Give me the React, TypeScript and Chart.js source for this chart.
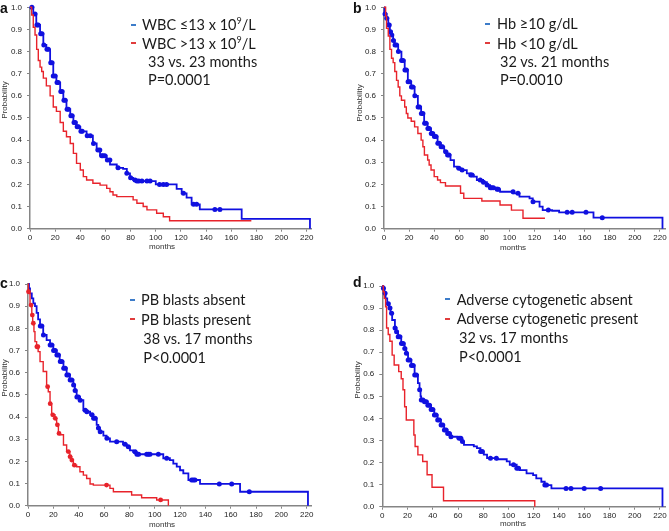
import React, { useEffect, useRef } from "react";
import { Chart, registerables } from "chart.js";
Chart.register(...registerables);

// ---------- shared ticks ----------
const xTicks = [0, 20, 40, 60, 80, 100, 120, 140, 160, 180, 200, 220];
const yTicks = [0, 0.1, 0.2, 0.3, 0.4, 0.5, 0.6, 0.7, 0.8, 0.9, 1.0];
const X_MAX = 224;

// ---------- panel a: WBC ----------
const aBlueT = [0, 2.6, 5, 8, 10.6, 13, 16, 18.5, 21, 24, 26.5, 29, 32, 34.5, 37, 40, 45, 50, 53, 55.7, 61, 63.6, 69, 74, 77, 79.5, 82, 85, 100, 116.6, 120.6, 124.5, 128.5, 135, 168.3, 222.6];
const aBlueS = [1, 0.97, 0.92, 0.88, 0.83, 0.81, 0.75, 0.69, 0.66, 0.62, 0.58, 0.54, 0.51, 0.48, 0.46, 0.44, 0.42, 0.385, 0.355, 0.33, 0.31, 0.29, 0.275, 0.27, 0.25, 0.23, 0.22, 0.215, 0.2, 0.18, 0.16, 0.14, 0.11, 0.087, 0.044, 0];
const aBlueCensor = [1.5, 4, 5.5, 6.5, 8.5, 9.5, 11, 13.5, 14.5, 16.5, 17.5, 18.5, 20, 21.5, 22.5, 24.5, 25.5, 27, 28, 29.5, 30.5, 32.5, 33.5, 35, 36, 37.5, 38.5, 40.5, 41.5, 45.5, 48, 50.5, 54, 55.5, 57, 58, 59.5, 61.5, 63.5, 70, 77, 80, 83.5, 85, 86.5, 89, 93, 95.5, 103, 106, 108.6, 122, 130, 132.5, 147, 151];
const aRedT = [0, 1.3, 2.6, 4, 5.3, 6.6, 8, 9.3, 10.6, 13, 16, 18.5, 21, 24, 26.5, 29, 32, 34.5, 37, 40, 42.4, 45, 50, 55.7, 61, 63.6, 66, 69, 82, 85, 90, 93, 100.7, 106, 111, 176];
const aRedS = [1, 0.965, 0.91, 0.875, 0.81, 0.76, 0.73, 0.71, 0.68, 0.645, 0.6, 0.55, 0.53, 0.48, 0.44, 0.415, 0.385, 0.34, 0.295, 0.265, 0.235, 0.22, 0.205, 0.197, 0.182, 0.167, 0.152, 0.145, 0.13, 0.115, 0.1, 0.085, 0.07, 0.054, 0.036, 0.036];
const aRedCensor: number[] = [];
const aLegend = ["WBC ≤13 x 10", "WBC >13 x 10", "33 vs. 23 months", "P=0.0001"];

// ---------- panel b: Hb ----------
const bBlueT = [0, 0.5, 2, 3.4, 4.7, 6, 7.3, 8.6, 11.3, 13.9, 16.5, 19, 21.7, 24.4, 27, 29.6, 32, 34.8, 37.5, 40, 42.7, 45.3, 48, 50.5, 53, 55.8, 58.4, 61, 66, 69, 71.5, 74, 79, 82, 84.6, 90, 92.5, 103, 108, 116, 118.6, 124, 126.5, 134, 139.6, 167, 222];
const bBlueS = [1, 0.97, 0.95, 0.92, 0.89, 0.875, 0.85, 0.83, 0.8, 0.76, 0.717, 0.664, 0.64, 0.6, 0.55, 0.52, 0.476, 0.453, 0.43, 0.416, 0.386, 0.37, 0.348, 0.333, 0.31, 0.28, 0.273, 0.265, 0.25, 0.242, 0.235, 0.22, 0.21, 0.197, 0.185, 0.178, 0.167, 0.16, 0.145, 0.137, 0.122, 0.1, 0.084, 0.081, 0.074, 0.05, 0];
const bBlueCensor = [0.8, 2.2, 3.6, 4.2, 5.2, 6.2, 7.5, 8.8, 10, 11.5, 14, 15.2, 16.7, 17.8, 19.2, 20.4, 21.9, 23, 24.6, 27.2, 28.3, 29.8, 31, 32.4, 33.5, 35, 36, 37.7, 38.8, 40.2, 41.4, 42.9, 44, 45.5, 46.6, 49.2, 50.7, 51.8, 59.7, 62.3, 69.2, 70.2, 76.7, 79.3, 82.2, 84.8, 85.9, 87.2, 90.2, 91.1, 102.9, 106.8, 118.8, 131, 146, 150, 161, 174];
const bRedT = [0, 1.3, 2, 3.4, 4.7, 6, 7.3, 8.6, 10, 11.3, 12.6, 13.9, 16.5, 17.8, 19, 21.7, 24.4, 27, 29.6, 31, 32.2, 34.8, 36, 37.5, 40, 42.7, 45, 49, 61, 63.6, 78, 92.5, 101.6, 110.8, 128.3];
const bRedS = [1, 0.96, 0.905, 0.87, 0.81, 0.77, 0.75, 0.71, 0.67, 0.64, 0.6, 0.58, 0.55, 0.52, 0.5, 0.485, 0.46, 0.43, 0.4, 0.37, 0.333, 0.31, 0.288, 0.265, 0.235, 0.22, 0.208, 0.193, 0.16, 0.137, 0.125, 0.107, 0.084, 0.047, 0.047];
const bRedCensor: number[] = [];
const bLegend = ["Hb ≥10 g/dL", "Hb <10 g/dL", "32 vs. 21 months", "P=0.0010"];

// ---------- panel c: PB blasts ----------
const cBlueT = [0, 0.8, 1.6, 3, 4.2, 5.5, 6.8, 8, 9.5, 12, 14.7, 17.4, 20, 22.6, 25, 28, 30.5, 33, 35.8, 37, 38.4, 41, 43.7, 46.3, 49, 51.6, 54.2, 55.5, 56.8, 59.5, 62, 64.7, 75, 78, 80.5, 83, 85.8, 106.8, 112, 114.7, 117.4, 120, 122.6, 126.6, 135.8, 167.4, 221];
const cBlueS = [1, 0.98, 0.958, 0.935, 0.913, 0.9, 0.87, 0.84, 0.81, 0.77, 0.747, 0.725, 0.7, 0.68, 0.65, 0.62, 0.59, 0.567, 0.544, 0.52, 0.49, 0.476, 0.43, 0.424, 0.41, 0.394, 0.365, 0.35, 0.334, 0.316, 0.304, 0.289, 0.277, 0.266, 0.25, 0.243, 0.232, 0.214, 0.206, 0.19, 0.176, 0.16, 0.146, 0.116, 0.098, 0.063, 0];
const cBlueCensor = [9.7, 10.9, 12.2, 17.5, 18.8, 20.2, 21.5, 22.8, 24, 25.5, 26.7, 28.2, 29.4, 30.7, 32, 33.3, 34.6, 36, 37.2, 38.6, 39.8, 41.2, 45.2, 46.5, 50.5, 51.8, 53, 55.6, 57, 62.3, 70, 76.6, 79.2, 84.5, 86, 87.3, 93.7, 95, 96.3, 102.9, 109.5, 129.2, 130.5, 131.8, 151, 160.8, 174.7];
const cRedT = [0, 0.3, 0.8, 1.6, 3, 3.7, 4.7, 5.5, 6.8, 8, 9.5, 12, 14.7, 16, 17.4, 18.7, 21.3, 22.6, 24, 25.3, 28, 30.5, 33, 34.5, 35.8, 38.4, 41, 43.7, 46.3, 49, 51.6, 64.7, 67.4, 81.8, 89.7, 101.6, 110.8];
const cRedS = [1, 0.965, 0.958, 0.905, 0.86, 0.823, 0.785, 0.74, 0.717, 0.695, 0.65, 0.605, 0.537, 0.514, 0.46, 0.41, 0.394, 0.365, 0.326, 0.32, 0.274, 0.244, 0.221, 0.206, 0.183, 0.176, 0.153, 0.138, 0.123, 0.098, 0.093, 0.078, 0.063, 0.048, 0.036, 0.026, 0];
const cRedCensor = [0.4, 2.4, 3.4, 4.2, 7, 7.8, 15.5, 17.5, 19.5, 21.5, 23.2, 24.5, 31.8, 33.2, 34.6, 36.6, 62, 104.7];
const cLegend = ["PB blasts absent", "PB blasts present", "38 vs. 17 months", "P<0.0001"];

// ---------- panel d: adverse cytogenetics ----------
const dBlueT = [0, 0.8, 1.6, 2.6, 3.9, 5.2, 6.5, 7.8, 10, 11.2, 12.5, 15, 17.7, 19, 20.4, 23, 25.6, 28.2, 29.5, 30.3, 30.8, 33.4, 36, 38.6, 41.2, 43.8, 46.4, 49, 51.7, 54.3, 59.5, 63.4, 64.7, 72.5, 75, 77.8, 80.4, 83, 90.8, 98.6, 101, 106.5, 109, 114.3, 119.5, 122, 126, 128.7, 134, 222];
const dBlueS = [1, 0.99, 0.967, 0.944, 0.92, 0.9, 0.876, 0.846, 0.81, 0.793, 0.77, 0.74, 0.717, 0.695, 0.665, 0.64, 0.597, 0.56, 0.53, 0.5, 0.483, 0.476, 0.46, 0.44, 0.415, 0.393, 0.37, 0.347, 0.332, 0.317, 0.31, 0.295, 0.28, 0.273, 0.265, 0.25, 0.236, 0.22, 0.215, 0.205, 0.19, 0.174, 0.166, 0.151, 0.143, 0.128, 0.113, 0.098, 0.083, 0];
const dBlueCensor = [0.9, 2.2, 4.8, 6.1, 7.4, 10.1, 11.3, 12.6, 13.9, 15.2, 16.5, 17.8, 19.1, 20.5, 21.8, 23.1, 24.4, 25.7, 27, 29.6, 30.9, 32.2, 33.5, 34.8, 36.1, 37.4, 38.7, 40, 41.3, 42.6, 43.9, 45.2, 46.6, 47.9, 49.2, 50.5, 51.8, 53.1, 54.4, 60.9, 62.2, 63.5, 77.9, 79.2, 85.7, 90.4, 104, 106.6, 107.9, 128.8, 130.1, 145.6, 149.5, 160, 173];
const dRedT = [0, 0.8, 1.6, 2.6, 3.4, 4.7, 6, 7.8, 9.4, 13, 15, 16.4, 17.7, 19, 25, 26, 28.2, 32, 35.5, 39.4, 48.5, 120.8];
const dRedS = [1, 0.974, 0.944, 0.906, 0.81, 0.78, 0.75, 0.687, 0.642, 0.612, 0.58, 0.53, 0.453, 0.393, 0.325, 0.273, 0.235, 0.205, 0.145, 0.088, 0.027, 0];
const dRedCensor: number[] = [];
const dLegend = ["Adverse cytogenetic absent", "Adverse cytogenetic present", "32 vs. 17 months", "P<0.0001"];

const BLUE = "#1010e0";
const RED = "#e8232b";
const AXIS = "#858585";

function stepAt(t: number[], s: number[], x: number) {
  let v = s[0];
  for (let i = 0; i < t.length; i++) {
    if (t[i] <= x) v = s[i];
    else break;
  }
  return v;
}

type Geo = {
  left: number; top: number; w: number; h: number;
  aLeft: number; aTop: number; aBottom: number; ppm: number;
};

type PanelProps = {
  geo: Geo;
  blueT: number[]; blueS: number[]; blueC: number[];
  redT: number[]; redS: number[]; redC: number[];
};

function Panel({ geo, blueT, blueS, blueC, redT, redS, redC }: PanelProps) {
  const ref = useRef<HTMLCanvasElement | null>(null);
  useEffect(() => {
    if (!ref.current) return;
    const right = Math.max(0, geo.w - (geo.aLeft + X_MAX * geo.ppm));
    const tickFont = { family: "'Liberation Sans', Arial, sans-serif", size: 8 };
    const chart = new Chart(ref.current, {
      type: "line",
      data: {
        datasets: [
          {
            type: "line",
            data: redT.map((x, i) => ({ x, y: redS[i] })),
            stepped: true,
            borderColor: RED,
            borderWidth: 1.4,
            pointRadius: 0,
            fill: false,
            clip: false,
          } as any,
          {
            type: "scatter",
            data: redC.map((x) => ({ x, y: stepAt(redT, redS, x) })),
            pointRadius: 2.4,
            backgroundColor: RED,
            borderWidth: 0,
            clip: false,
          } as any,
          {
            type: "line",
            data: blueT.map((x, i) => ({ x, y: blueS[i] })),
            stepped: true,
            borderColor: BLUE,
            borderWidth: 1.8,
            pointRadius: 0,
            fill: false,
            clip: false,
          } as any,
          {
            type: "scatter",
            data: blueC.map((x) => ({ x, y: stepAt(blueT, blueS, x) })),
            pointRadius: 2.5,
            backgroundColor: BLUE,
            borderWidth: 0,
            clip: false,
          } as any,
        ],
      },
      options: {
        responsive: false,
        animation: false,
        events: [],
        layout: { padding: { left: 0, top: geo.aTop, right, bottom: 0 } },
        plugins: { legend: { display: false }, tooltip: { enabled: false } },
        scales: {
          x: {
            type: "linear",
            min: 0,
            max: X_MAX,
            afterBuildTicks: (s: any) => {
              s.ticks = xTicks.map((v) => ({ value: v }));
            },
            afterFit: (s: any) => {
              s.height = geo.h - geo.aBottom;
              s.paddingLeft = 0;
              s.paddingRight = 0;
            },
            ticks: { font: tickFont, color: "#222", padding: 1, maxRotation: 0, autoSkip: false },
            grid: { display: true, drawOnChartArea: false, drawTicks: true, tickLength: 3, color: AXIS, lineWidth: 1 },
            border: { display: true, color: AXIS, width: 1.5 },
          },
          y: {
            type: "linear",
            min: 0,
            max: 1,
            afterBuildTicks: (s: any) => {
              s.ticks = yTicks.map((v) => ({ value: v }));
            },
            afterFit: (s: any) => {
              s.width = geo.aLeft;
              s.paddingTop = 0;
              s.paddingBottom = 0;
            },
            ticks: {
              font: tickFont,
              color: "#222",
              padding: 5,
              autoSkip: false,
              callback: (v: any) => Number(v).toFixed(1),
            },
            grid: { display: true, drawOnChartArea: false, drawTicks: true, tickLength: 3, color: AXIS, lineWidth: 1 },
            border: { display: true, color: AXIS, width: 1.5 },
          },
        },
      } as any,
    });
    return () => chart.destroy();
  }, []);
  return (
    <canvas
      ref={ref}
      width={geo.w}
      height={geo.h}
      style={{ position: "absolute", left: geo.left, top: geo.top, width: geo.w, height: geo.h }}
    />
  );
}

const legendFont = "Lato, 'Open Sans', sans-serif";

function Txt({ x, y, children, size = 14.5, color = "#1a1a1a" }: any) {
  return (
    <div
      style={{
        position: "absolute",
        left: x,
        top: y - size * 0.6,
        fontFamily: legendFont,
        fontSize: size,
        lineHeight: `${size * 1.2}px`,
        color,
        whiteSpace: "nowrap",
      }}
    >
      {children}
    </div>
  );
}

function Dash({ x, y, color }: any) {
  return <div style={{ position: "absolute", left: x, top: y - 1, width: 5, height: 2, background: color }} />;
}

function Legend({ dashX, textX, text2X, ys, lines, sup }: any) {
  return (
    <>
      <Dash x={dashX} y={ys[0]} color="#3d7cc9" />
      <Dash x={dashX} y={ys[1]} color="#e03c3c" />
      <Txt x={textX} y={ys[0]}>
        {lines[0]}
        {sup ? <sup style={{ fontSize: "0.62em", lineHeight: 0 }}>9</sup> : null}
        {sup ? "/L" : null}
      </Txt>
      <Txt x={textX} y={ys[1]}>
        {lines[1]}
        {sup ? <sup style={{ fontSize: "0.62em", lineHeight: 0 }}>9</sup> : null}
        {sup ? "/L" : null}
      </Txt>
      <Txt x={text2X} y={ys[2]}>{lines[2]}</Txt>
      <Txt x={text2X} y={ys[3]}>{lines[3]}</Txt>
    </>
  );
}

const smallFont = "'Liberation Sans', Arial, sans-serif";

function AxisTitles({ px, py, mx, my }: any) {
  return (
    <>
      <div
        style={{
          position: "absolute",
          left: px,
          top: py,
          transform: "translate(-50%, -50%) rotate(-90deg)",
          fontFamily: smallFont,
          fontSize: 8,
          color: "#333",
          whiteSpace: "nowrap",
          lineHeight: "8px",
        }}
      >
        Probability
      </div>
      <div
        style={{
          position: "absolute",
          left: mx,
          top: my,
          transform: "translate(-50%, -50%)",
          fontFamily: smallFont,
          fontSize: 8,
          color: "#333",
          whiteSpace: "nowrap",
          lineHeight: "8px",
        }}
      >
        months
      </div>
    </>
  );
}

function Letter({ x, y, ch }: any) {
  return (
    <div
      style={{
        position: "absolute",
        left: x,
        top: y,
        fontFamily: smallFont,
        fontWeight: "bold",
        fontSize: 14,
        lineHeight: "14px",
        color: "#111",
      }}
    >
      {ch}
    </div>
  );
}

const geoA: Geo = { left: 0, top: 0, w: 335, h: 265, aLeft: 30, aTop: 7.3, aBottom: 228.7, ppm: 1.2577 };
const geoB: Geo = { left: 335, top: 0, w: 334, h: 265, aLeft: 49, aTop: 7.3, aBottom: 228.7, ppm: 1.2727 };
const geoC: Geo = { left: 0, top: 265, w: 335, h: 266, aLeft: 28, aTop: 19, aBottom: 240.7, ppm: 1.2668 };
const geoD: Geo = { left: 335, top: 265, w: 334, h: 266, aLeft: 47.3, aTop: 21, aBottom: 241.7, ppm: 1.2773 };

export default function App() {
  return (
    <div style={{ position: "fixed", left: 0, top: 0, width: 669, height: 531, background: "#fff", overflow: "hidden" }}>
      <Panel geo={geoA} blueT={aBlueT} blueS={aBlueS} blueC={aBlueCensor} redT={aRedT} redS={aRedS} redC={aRedCensor} />
      <Panel geo={geoB} blueT={bBlueT} blueS={bBlueS} blueC={bBlueCensor} redT={bRedT} redS={bRedS} redC={bRedCensor} />
      <Panel geo={geoC} blueT={cBlueT} blueS={cBlueS} blueC={cBlueCensor} redT={cRedT} redS={cRedS} redC={cRedCensor} />
      <Panel geo={geoD} blueT={dBlueT} blueS={dBlueS} blueC={dBlueCensor} redT={dRedT} redS={dRedS} redC={dRedCensor} />

      <Letter x={0} y={1} ch="a" />
      <Letter x={353} y={1} ch="b" />
      <Letter x={0} y={276} ch="c" />
      <Letter x={353} y={275} ch="d" />

      <AxisTitles px={5} py={100} mx={162} my={247} />
      <AxisTitles px={360} py={103} mx={513} my={248} />
      <AxisTitles px={5} py={378} mx={162} my={525} />
      <AxisTitles px={358} py={380} mx={513} my={524} />

      <Legend dashX={131} textX={142} text2X={148} ys={[25, 43.3, 61.7, 80]} lines={aLegend} sup />
      <Legend dashX={485} textX={497} text2X={500} ys={[24, 43.3, 61.7, 80]} lines={bLegend} />
      <Legend dashX={130} textX={141} text2X={143.3} ys={[300, 319.3, 338.3, 357.7]} lines={cLegend} />
      <Legend dashX={445} textX={456.7} text2X={459} ys={[299.3, 319, 337.7, 356.7]} lines={dLegend} />
    </div>
  );
}
